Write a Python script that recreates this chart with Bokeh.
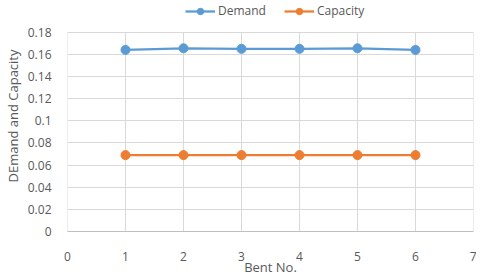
from bokeh.plotting import figure
from bokeh.models import Legend, LegendItem, FixedTicker, CustomJSTickFormatter, Range1d
from bokeh.embed import file_html
from bokeh.resources import INLINE

bents = [1, 2, 3, 4, 5, 6]
demand = [0.164, 0.1655, 0.165, 0.165, 0.1655, 0.164]
capacity = [0.069, 0.069, 0.069, 0.069, 0.069, 0.069]
x_ticks = [0, 1, 2, 3, 4, 5, 6, 7]
y_ticks = [0, 0.02, 0.04, 0.06, 0.08, 0.1, 0.12, 0.14, 0.16, 0.18]

FONT = "Open Sans"
TXT = "#595959"
BLUE = "#5b9bd5"
ORANGE = "#ed7d31"
GRID = "#d9d9d9"

H = 278
BOTTOM = 45
FRAME_H = H - BOTTOM          # frame reaches the top edge, room for legend
PLOT_H = 201                  # pixel height of the 0..0.18 area
y_top = y_ticks[-1] * FRAME_H / PLOT_H

p = figure(width=476, height=H, output_backend="svg", toolbar_location=None,
           x_range=Range1d(x_ticks[0], x_ticks[-1]), y_range=Range1d(0, y_top),
           min_border_left=67, min_border_right=3, min_border_top=0,
           min_border_bottom=BOTTOM)
p.outline_line_color = None
p.xgrid.grid_line_color = None
p.ygrid.grid_line_color = GRID

# vertical grid lines limited to the 0..0.18 area
n = len(x_ticks)
p.segment(x0=x_ticks, y0=[y_ticks[0]] * n, x1=x_ticks, y1=[y_ticks[-1]] * n,
          line_color=GRID, line_width=1)

r1 = p.line(bents, demand, line_color=BLUE, line_width=2.25)
s1 = p.scatter(bents, demand, size=9, fill_color=BLUE, line_color=BLUE)
r2 = p.line(bents, capacity, line_color=ORANGE, line_width=2.25)
s2 = p.scatter(bents, capacity, size=9, fill_color=ORANGE, line_color=ORANGE)

p.xaxis.ticker = FixedTicker(ticks=x_ticks)
p.yaxis.ticker = FixedTicker(ticks=y_ticks)
p.yaxis.formatter = CustomJSTickFormatter(code="return parseFloat(tick.toFixed(2)).toString();")

for ax in (p.xaxis[0], p.yaxis[0]):
    ax.major_tick_line_color = None
    ax.minor_tick_line_color = None
    ax.major_label_text_font = FONT
    ax.major_label_text_font_size = "12px"
    ax.major_label_text_color = TXT
    ax.axis_label_text_font = FONT
    ax.axis_label_text_font_size = "13px"
    ax.axis_label_text_font_style = "normal"
    ax.axis_label_text_color = TXT

p.xaxis.axis_line_color = "#bfbfbf"
p.yaxis.axis_line_color = None
p.xaxis.major_label_standoff = 14
p.yaxis.major_label_standoff = 10
p.xaxis.axis_label = "Bent No."
p.yaxis.axis_label = "DEmand and Capacity"
p.xaxis.axis_label_standoff = -6
p.yaxis.axis_label_standoff = 3

legend = Legend(items=[LegendItem(label="Demand", renderers=[r1, s1]),
                       LegendItem(label="Capacity", renderers=[r2, s2])],
                orientation="horizontal", location=(118, 212),
                padding=0, margin=0, spacing=18, border_line_color=None,
                background_fill_alpha=0, glyph_width=30, glyph_height=16,
                label_height=16, label_standoff=3,
                label_text_font=FONT, label_text_font_size="12px",
                label_text_color=TXT)
p.add_layout(legend)

open("out.html", "w").write(file_html(p, INLINE))
